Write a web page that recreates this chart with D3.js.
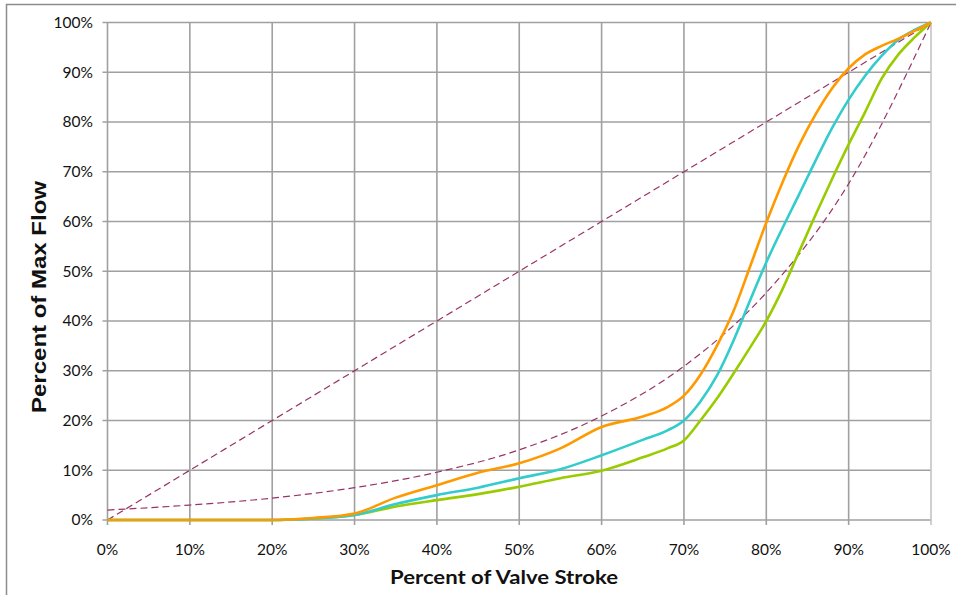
<!DOCTYPE html>
<html>
<head>
<meta charset="utf-8">
<script src="https://cdn.jsdelivr.net/npm/d3@7"></script>
<style>
  html, body { margin: 0; padding: 0; background: #fff; }
  svg { display: block; }
</style>
</head>
<body>
<svg id="chart" width="956" height="595"></svg>
<script>
// ---- data ----
const tickValues = [0, 10, 20, 30, 40, 50, 60, 70, 80, 90, 100];
const tickLabels = ["0%", "10%", "20%", "30%", "40%", "50%", "60%", "70%", "80%", "90%", "100%"];

const stroke = [0, 20, 25, 30, 35, 40, 45, 50, 55, 60, 65, 68, 70, 72, 74, 76, 78, 80, 82, 84, 86, 88, 90, 92, 94, 96, 98, 100];
const orangeFlow = [0, 0, 0.4, 1.3, 4.5, 7, 9.5, 11.4, 14.4, 18.7, 20.8, 22.7, 25, 29.2, 35, 41.9, 50.8, 59.8, 68, 75.4, 81.6, 86.8, 90.8, 93.6, 95.3, 96.7, 98.3, 100];
const cyanFlow   = [0, 0, 0.3, 1, 3.2, 5, 6.5, 8.4, 10.2, 13, 16.1, 18, 20, 23.8, 29, 36, 44, 51.8, 58.8, 65.5, 72.3, 78.8, 84.5, 89.3, 93.3, 96.5, 98.5, 100];
const greenFlow  = [0, 0, 0.3, 1, 2.7, 4, 5.2, 6.7, 8.4, 9.9, 12.6, 14.4, 16, 20, 24.4, 29.4, 34.6, 40, 46.5, 54, 61.4, 68.6, 75.5, 82, 88.7, 93.5, 97, 100];

const linearStroke = [0, 100];
const linearFlow = [0, 100];
const eqStroke = [0, 10, 20, 30, 40, 50, 60, 70, 80, 90, 100];
const eqFlow = [2, 3, 4.4, 6.5, 9.6, 14.1, 20.9, 30.9, 45.7, 67.6, 100];

const xTitle = "Percent of Valve Stroke";
const yTitle = "Percent of Max Flow";

// ---- drawing ----
const svg = d3.select("#chart");
const pLeft = 107.5, pRight = 931, pTop = 22.5, pBottom = 520;
const x = d3.scaleLinear().domain([0, 100]).range([pLeft, pRight]);
const y = d3.scaleLinear().domain([0, 100]).range([pBottom, pTop]);

// outer border (top & left visible)
svg.append("path")
  .attr("d", "M6.5,595 L6.5,4.5 L956,4.5")
  .attr("fill", "none").attr("stroke", "#8c8c8c").attr("stroke-width", 1.5);

const gridColor = "#a0a0a0";
// horizontal grid + y tick marks
svg.append("g").selectAll("line").data(tickValues).join("line")
  .attr("x1", pLeft - 5).attr("x2", pRight)
  .attr("y1", d => y(d)).attr("y2", d => y(d))
  .attr("stroke", gridColor).attr("stroke-width", 1.6);
// vertical grid + x tick marks
svg.append("g").selectAll("line").data(tickValues).join("line")
  .attr("x1", d => x(d)).attr("x2", d => x(d))
  .attr("y1", pTop).attr("y2", pBottom + 5)
  .attr("stroke", d => d === 100 ? "#c4c4c4" : gridColor).attr("stroke-width", 1.6);

// tick labels
svg.append("g").selectAll("text").data(tickValues).join("text")
  .attr("x", 93).attr("y", d => y(d)).attr("dy", "0.35em")
  .attr("text-anchor", "end")
  .attr("font-family", "Lato, 'Open Sans', sans-serif").attr("font-size", 15.5)
  .attr("fill", "#111")
  .text((d, i) => tickLabels[i]);
svg.append("g").selectAll("text").data(tickValues).join("text")
  .attr("x", d => x(d)).attr("y", 555)
  .attr("text-anchor", "middle")
  .attr("font-family", "Lato, 'Open Sans', sans-serif").attr("font-size", 15.5)
  .attr("fill", "#111")
  .text((d, i) => tickLabels[i]);

// axis titles
svg.append("text")
  .attr("x", 504).attr("y", 584)
  .attr("text-anchor", "middle")
  .attr("font-family", "Lato, 'Open Sans', sans-serif").attr("font-weight", "bold")
  .attr("font-size", 19.5).attr("fill", "#111")
  .attr("textLength", 228).attr("lengthAdjust", "spacingAndGlyphs")
  .text(xTitle);
svg.append("text")
  .attr("transform", "translate(46,297) rotate(-90)")
  .attr("text-anchor", "middle")
  .attr("font-family", "'Liberation Sans', Arial, sans-serif").attr("font-weight", "bold")
  .attr("font-size", 21).attr("fill", "#111")
  .attr("textLength", 232).attr("lengthAdjust", "spacingAndGlyphs")
  .text(yTitle);

// lines
const line = d3.line().x(d => x(d[0])).y(d => y(d[1])).curve(d3.curveMonotoneX);
const zip = (xs, ys) => xs.map((v, i) => [v, ys[i]]);

const dashed = "#993366";
svg.append("path").datum(zip(linearStroke, linearFlow))
  .attr("d", line).attr("fill", "none").attr("stroke", dashed)
  .attr("stroke-width", 1.2).attr("stroke-dasharray", "7,4");
svg.append("path").datum(zip(eqStroke, eqFlow))
  .attr("d", line).attr("fill", "none").attr("stroke", dashed)
  .attr("stroke-width", 1.2).attr("stroke-dasharray", "7,4");

const series = [
  { vals: greenFlow, color: "#99cc00" },
  { vals: cyanFlow, color: "#33cccc" },
  { vals: orangeFlow, color: "#ff9900" }
];
series.forEach(s => {
  svg.append("path").datum(zip(stroke, s.vals))
    .attr("d", line).attr("fill", "none").attr("stroke", s.color)
    .attr("stroke-width", 2.6).attr("stroke-linejoin", "round");
});
</script>
</body>
</html>
